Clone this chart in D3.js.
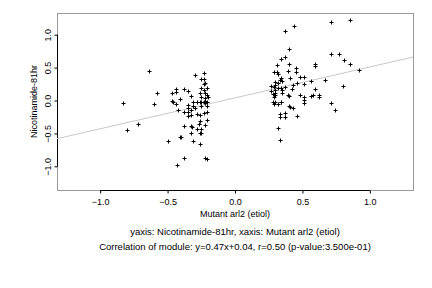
<!DOCTYPE html>
<html>
<head>
<meta charset="utf-8">
<script src="https://cdn.jsdelivr.net/npm/d3@7"></script>
<style>
body{margin:0;background:#fff;}
text{font-family:"Liberation Sans",Arial,Helvetica,sans-serif;}
</style>
</head>
<body>
<div id="grafico"></div>
<script>

// puntos grupo izquierdo (x = Mutant arl2, y = Nicotinamide-81hr)
const izqX=[-0.83,-0.80,-0.72,-0.64,-0.58,-0.60,-0.47,-0.44,-0.44,-0.47,-0.46,-0.44,-0.41,-0.38,-0.35,-0.33,-0.30,-0.23,-0.25,-0.23,
-0.22,-0.23,-0.25,-0.21,-0.23,-0.26,-0.22,-0.21,-0.25,-0.22,-0.31,-0.28,-0.26,-0.25,-0.23,-0.22,-0.22,-0.21,-0.35,-0.35,
-0.31,-0.30,-0.25,-0.21,-0.42,-0.38,-0.35,-0.33,-0.33,-0.28,-0.26,-0.23,-0.21,-0.35,-0.26,-0.27,-0.21,-0.38,-0.33,-0.32,
-0.22,-0.28,-0.25,-0.33,-0.26,-0.25,-0.40,-0.41,-0.50,-0.31,-0.26,-0.38,-0.22,-0.21,-0.43,-0.20];
const izqY=[-0.04,-0.45,-0.36,0.45,0.12,-0.06,0.12,0.13,0.17,0.00,-0.03,-0.06,0.03,0.17,0.14,0.07,0.39,0.42,0.33,0.33,
0.26,0.25,0.19,0.19,0.16,0.11,0.12,0.08,0.06,0.04,-0.03,-0.03,-0.03,-0.03,-0.02,-0.01,-0.04,-0.03,-0.07,-0.11,
-0.09,-0.11,-0.09,-0.09,-0.14,-0.18,-0.17,-0.14,-0.22,-0.21,-0.22,-0.19,-0.18,-0.23,-0.31,-0.35,-0.30,-0.39,-0.39,-0.41,
-0.37,-0.44,-0.44,-0.49,-0.50,-0.49,-0.55,-0.56,-0.61,-0.62,-0.66,-0.87,-0.88,-0.89,-0.98,0.06];

// puntos grupo derecho
const derX=[0.44,0.37,0.71,0.85,0.40,0.37,0.34,0.31,0.40,0.45,0.59,0.59,0.71,0.77,0.81,0.85,0.92,0.29,0.31,0.32,
0.39,0.45,0.34,0.33,0.35,0.41,0.48,0.51,0.56,0.67,0.30,0.32,0.30,0.27,0.29,0.27,0.32,0.30,0.34,0.35,
0.37,0.43,0.46,0.51,0.42,0.48,0.51,0.39,0.40,0.59,0.56,0.58,0.62,0.62,0.80,0.28,0.30,0.29,0.30,0.35,
0.28,0.29,0.30,0.32,0.34,0.34,0.40,0.41,0.43,0.51,0.51,0.46,0.33,0.33,0.37,0.37,0.71,0.74,0.32,0.33];
const derY=[1.14,1.05,1.19,1.22,0.78,0.66,0.63,0.54,0.55,0.50,0.55,0.52,0.70,0.70,0.61,0.55,0.46,0.44,0.44,0.40,
0.45,0.43,0.34,0.31,0.30,0.34,0.36,0.35,0.30,0.31,0.28,0.26,0.23,0.22,0.20,0.15,0.19,0.16,0.19,0.16,
0.21,0.23,0.26,0.25,0.17,0.09,0.06,0.08,0.07,0.17,0.07,0.09,0.08,0.05,0.22,0.10,0.12,0.06,0.08,0.11,
-0.03,-0.05,-0.03,-0.05,-0.03,-0.02,-0.08,-0.10,-0.12,0.01,-0.04,-0.23,-0.20,-0.25,-0.19,-0.25,-0.04,-0.15,-0.42,-0.60];

const ticksX=[-1.0,-0.5,0.0,0.5,1.0];
const ticksY=[-1.0,-0.5,0.0,0.5,1.0];

// recta de regresion
const pendiente=0.47;
const intercepto=0.04;

const tituloX="Mutant arl2 (etiol)";
const tituloY="Nicotinamide-81hr";
const linea1="yaxis: Nicotinamide-81hr, xaxis: Mutant arl2 (etiol)";
const linea2="Correlation of module: y=0.47x+0.04, r=0.50 (p-value:3.500e-01)";

const width=432, height=288;
const m={left:57,right:413,top:13,bottom:190};
const fs="9px";

const puntos=izqX.map((v,i)=>({x:v,y:izqY[i]}))
  .concat(derX.map((v,i)=>({x:v,y:derY[i]})));

const svg=d3.select("#grafico").append("svg")
  .attr("width",width).attr("height",height);

const x=d3.scaleLinear().domain([-1.32,1.32]).range([m.left,m.right]);
const y=d3.scaleLinear().domain([-1.36,1.33]).range([m.bottom,m.top]);

svg.append("clipPath").attr("id","zona")
  .append("rect")
  .attr("x",m.left).attr("y",m.top)
  .attr("width",m.right-m.left).attr("height",m.bottom-m.top);

// caja gris
svg.append("rect")
  .attr("x",m.left+0.5).attr("y",m.top+0.5)
  .attr("width",m.right-m.left).attr("height",m.bottom-m.top)
  .attr("fill","none").attr("stroke","#999");

// eje X
const ejeX=svg.append("g")
  .attr("transform",`translate(0,${m.bottom+0.5})`)
  .call(d3.axisBottom(x).tickValues(ticksX).tickSize(3).tickPadding(5)
    .tickFormat(d3.format(".1f")));
ejeX.select(".domain").attr("d",`M${x(ticksX[0])},0H${x(ticksX[ticksX.length-1])}`);

// eje Y
const ejeY=svg.append("g")
  .attr("transform",`translate(${m.left+0.5},0)`)
  .call(d3.axisLeft(y).tickValues(ticksY).tickSize(3).tickPadding(4)
    .tickFormat(d3.format(".1f")));
ejeY.select(".domain").attr("d",`M0,${y(ticksY[0])}V${y(ticksY[ticksY.length-1])}`);
ejeY.selectAll(".tick text")
  .attr("transform","rotate(-90)")
  .attr("x",0).attr("y",-7)
  .attr("dy","0")
  .attr("text-anchor","middle");

svg.selectAll(".tick text").style("font-size",fs).attr("fill","#000");
ejeX.selectAll(".tick text").attr("font-family",null);
ejeY.selectAll(".tick text").attr("font-family",null);
svg.selectAll(".domain").attr("stroke","#000");

// titulos
svg.append("text")
  .attr("x",x(0)).attr("y",217)
  .attr("text-anchor","middle")
  .style("font-size",fs)
  .text(tituloX);

svg.append("text")
  .attr("transform","rotate(-90)")
  .attr("x",-(m.top+m.bottom)/2).attr("y",37)
  .attr("text-anchor","middle")
  .style("font-size",fs)
  .text(tituloY);

svg.append("text")
  .attr("x",x(0)).attr("y",235)
  .attr("text-anchor","middle")
  .style("font-size","9.5px")
  .text(linea1);

svg.append("text")
  .attr("x",x(0)).attr("y",250)
  .attr("text-anchor","middle")
  .style("font-size","9.5px")
  .text(linea2);

// recta
const dom=x.domain();
svg.append("line")
  .attr("clip-path","url(#zona)")
  .attr("x1",x(dom[0])).attr("y1",y(pendiente*dom[0]+intercepto))
  .attr("x2",x(dom[1])).attr("y2",y(pendiente*dom[1]+intercepto))
  .attr("stroke","#c8c8c8").attr("stroke-width",1);

// puntos "+"
svg.selectAll(".punto")
  .data(puntos)
  .enter()
  .append("path")
  .attr("class","punto")
  .attr("transform",d=>`translate(${Math.round(x(d.x))+0.5},${Math.round(y(d.y))+0.5})`)
  .attr("d","M-2,0H2M0,-2V2")
  .attr("stroke","#000")
  .attr("stroke-width",1)
  .attr("fill","none");

</script>
</body>
</html>
